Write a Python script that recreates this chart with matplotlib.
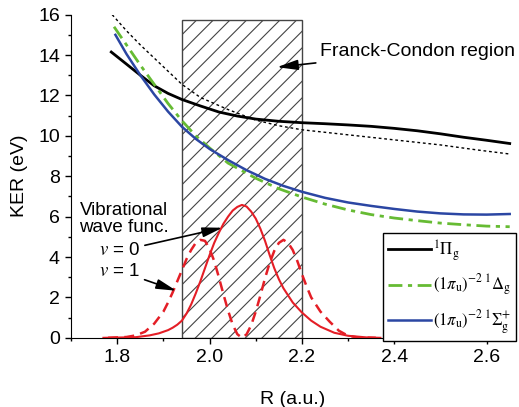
import matplotlib.pyplot as plt
from matplotlib.patches import Rectangle

plt.rcParams['font.family'] = ['Liberation Sans', 'DejaVu Sans']
plt.rcParams['mathtext.fontset'] = 'stix'
plt.rcParams['hatch.linewidth'] = 0.8

# potential curves (R in a.u., KER in eV)
pi_R = [1.787, 1.82, 1.85, 1.88, 1.91, 1.94, 1.98, 2.02, 2.06, 2.10, 2.15, 2.20,
        2.25, 2.30, 2.35, 2.40, 2.45, 2.50, 2.55, 2.60, 2.65]
pi_E = [14.15, 13.55, 13.0, 12.48, 12.1, 11.8, 11.48, 11.18, 10.98, 10.83, 10.72, 10.65,
        10.6, 10.54, 10.47, 10.37, 10.25, 10.1, 9.93, 9.78, 9.62]

dot_R = [1.789, 1.82, 1.85, 1.88, 1.91, 1.94, 1.98, 2.04, 2.10, 2.15, 2.20, 2.30,
         2.40, 2.50, 2.58, 2.65]
dot_E = [16.0, 15.2, 14.5, 13.85, 13.2, 12.55, 11.9, 11.3, 10.78, 10.5, 10.3, 10.05,
         9.8, 9.55, 9.3, 9.1]

delta_R = [1.793, 1.82, 1.85, 1.88, 1.91, 1.94, 1.97, 2.00, 2.04, 2.10, 2.15, 2.20,
           2.25, 2.30, 2.35, 2.40, 2.45, 2.50, 2.55, 2.60, 2.65]
delta_E = [15.4, 14.5, 13.5, 12.55, 11.6, 10.75, 10.0, 9.4, 8.65, 7.9, 7.38, 6.97,
           6.62, 6.33, 6.1, 5.93, 5.8, 5.68, 5.6, 5.53, 5.5]

sigma_R = [1.796, 1.82, 1.85, 1.88, 1.91, 1.94, 1.97, 2.00, 2.04, 2.08, 2.12, 2.16,
           2.20, 2.25, 2.30, 2.35, 2.40, 2.45, 2.50, 2.55, 2.60, 2.65]
sigma_E = [15.0, 14.05, 13.0, 12.05, 11.2, 10.45, 9.85, 9.35, 8.8, 8.3, 7.87, 7.52,
           7.23, 6.93, 6.7, 6.53, 6.38, 6.25, 6.16, 6.11, 6.1, 6.13]

# vibrational wave functions
v0_R = [1.77, 1.84, 1.87, 1.89, 1.91, 1.92, 1.93, 1.94, 1.95, 1.96, 1.97, 1.98, 1.99,
        2.00, 2.01, 2.02, 2.03, 2.04, 2.05, 2.06, 2.07, 2.08, 2.09, 2.10, 2.11, 2.12,
        2.13, 2.14, 2.15, 2.16, 2.18, 2.20, 2.22, 2.24, 2.27, 2.30, 2.34, 2.37]
v0_E = [0.0, 0.03, 0.12, 0.22, 0.38, 0.5, 0.65, 0.85, 1.2, 1.65, 2.2, 2.8, 3.45,
        4.1, 4.7, 5.2, 5.65, 6.0, 6.3, 6.48, 6.58, 6.5, 6.25, 5.9, 5.4, 4.8,
        4.1, 3.45, 2.9, 2.45, 1.75, 1.25, 0.85, 0.55, 0.25, 0.1, 0.02, 0.0]

v1_R = [1.78, 1.82, 1.84, 1.86, 1.88, 1.90, 1.91, 1.92, 1.93, 1.94, 1.95, 1.96, 1.97,
        1.98, 1.99, 2.00, 2.01, 2.02, 2.03, 2.04, 2.05, 2.06, 2.07, 2.08, 2.09, 2.10,
        2.11, 2.12, 2.13, 2.14, 2.15, 2.16, 2.17, 2.18, 2.19, 2.20, 2.21, 2.22, 2.24,
        2.26, 2.28, 2.30, 2.32, 2.36]
v1_E = [0.0, 0.04, 0.12, 0.3, 0.7, 1.3, 1.75, 2.25, 2.8, 3.35, 3.9, 4.35, 4.7,
        4.85, 4.8, 4.4, 3.8, 3.0, 2.15, 1.35, 0.65, 0.18, 0.0, 0.17, 0.62, 1.3,
        2.1, 2.95, 3.7, 4.3, 4.7, 4.85, 4.7, 4.35, 3.8, 3.15, 2.55, 2.0, 1.3,
        0.8, 0.35, 0.1, 0.02, 0.0]

legend_labels = [r'$^{1}\Pi_{\mathrm{g}}$',
                 r'$(1\pi_{\mathrm{u}})^{-2}\,^{1}\Delta_{\mathrm{g}}$',
                 r'$(1\pi_{\mathrm{u}})^{-2}\,^{1}\Sigma_{\mathrm{g}}^{+}$']

fc_left, fc_right, fc_top = 1.94, 2.20, 15.75

fig = plt.figure(figsize=(5.19, 4.07), dpi=100)
ax = fig.add_axes([0.137, 0.170, 0.854, 0.794])

ax.add_patch(Rectangle((fc_left, 0), fc_right - fc_left, fc_top, fill=False,
                       hatch='//', edgecolor='#444444', lw=1.0, zorder=1))

ax.plot(dot_R, dot_E, color='black', lw=1.0, ls=(0, (2, 2)), zorder=3)
l1, = ax.plot(pi_R, pi_E, color='black', lw=2.0, zorder=4)
l2, = ax.plot(delta_R, delta_E, color='#66bb33', lw=2.0, ls=(0, (5, 2, 1.5, 2)), zorder=4)
l3, = ax.plot(sigma_R, sigma_E, color='#2b46a3', lw=1.8, zorder=4)
ax.plot(v0_R, v0_E, color='#e41e26', lw=1.5, zorder=3)
ax.plot(v1_R, v1_E, color='#e41e26', lw=1.8, ls=(0, (4, 2.5)), zorder=3)

ax.set_xlim(1.7, 2.66)
ax.set_ylim(0, 16)
ax.set_xticks([1.8, 2.0, 2.2, 2.4, 2.6])
ax.set_xticks([1.7, 1.9, 2.1, 2.3, 2.5], minor=True)
ax.set_yticks(range(0, 17, 2))
ax.set_yticks(range(1, 16, 2), minor=True)
ax.set_xticklabels(['1.8', '2.0', '2.2', '2.4', '2.6'])
ax.tick_params(which='major', length=4, width=1, labelsize=14, direction='out', pad=4)
ax.tick_params(which='minor', length=2.5, width=1, direction='out')
ax.spines['top'].set_visible(False)
ax.spines['right'].set_visible(False)
ax.set_xlabel('R (a.u.)', fontsize=14, labelpad=18)
ax.set_ylabel('KER (eV)', fontsize=14, labelpad=7)

arrow = dict(arrowstyle='-|>,head_length=0.9,head_width=0.22',
             color='black', lw=1.2, shrinkA=1, shrinkB=0)
ax.annotate('Franck-Condon region', xy=(2.146, 13.4), xytext=(2.239, 14.16),
            fontsize=14, va='center', ha='left', arrowprops=arrow)
ax.text(1.814, 5.9, 'Vibrational\nwave func.', fontsize=13.5, ha='center', va='center',
        multialignment='center', linespacing=1.0)
ax.annotate('$v$ = 0', xy=(2.028, 5.45), xytext=(1.761, 4.3), fontsize=13.5,
            va='center', ha='left', arrowprops=arrow)
ax.annotate('$v$ = 1', xy=(1.928, 2.33), xytext=(1.761, 3.3), fontsize=13.5,
            va='center', ha='left', arrowprops=arrow)

leg = ax.legend([l1, l2, l3], legend_labels,
                loc='upper left', bbox_to_anchor=(383 / 519, 1 - 233 / 407),
                bbox_transform=fig.transFigure, fontsize=12, frameon=True,
                fancybox=False, framealpha=1, edgecolor='black', handlelength=2.6,
                handletextpad=0.1, borderpad=0.3, labelspacing=0.6, borderaxespad=0)
leg.get_frame().set_linewidth(1.0)
leg.set_zorder(5)

fig.savefig('out.png', dpi=100)
